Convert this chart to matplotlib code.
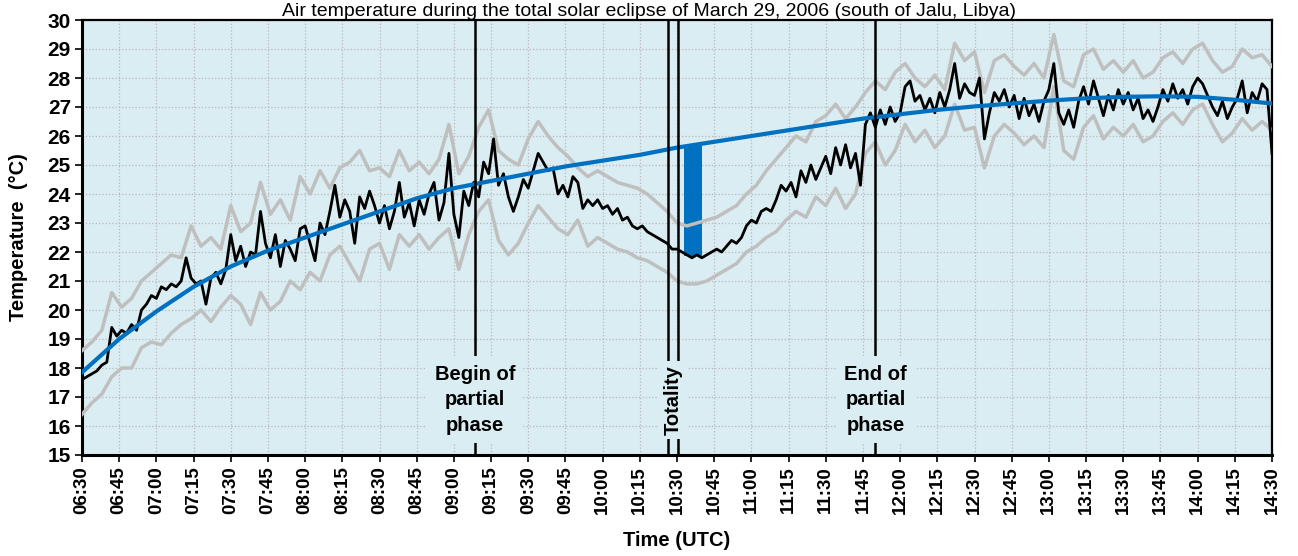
import matplotlib
matplotlib.use("Agg")
import matplotlib.pyplot as plt
import numpy as np

# minutes after 06:30 UTC
t_black = np.arange(0, 481, 2)
black = [
    17.6, 17.7, 17.8, 17.9, 18.1, 18.2, 19.4, 19.1, 19.3, 19.2, 19.5, 19.3, 20.0, 20.2, 20.5,
    20.4, 20.8, 20.7, 20.9, 20.8, 21.0, 21.8, 21.1, 20.9, 21.0, 20.2, 21.1, 21.3, 20.9, 21.4,
    22.6, 21.7, 22.2, 21.5, 22.0, 21.9, 23.4, 22.3, 21.8, 22.6, 21.5, 22.4, 22.1, 21.7, 22.8,
    22.9, 22.3, 21.7, 23.0, 22.6, 23.4, 24.3, 23.2, 23.8, 23.4, 22.3, 23.9, 23.5, 24.1, 23.6,
    23.0, 23.6, 22.8, 23.4, 24.4, 23.2, 23.7, 22.9, 23.8, 23.3, 24.0, 24.4, 23.1, 23.7, 25.4,
    23.3, 22.5, 24.1, 23.6, 24.4, 23.9, 25.1, 24.7, 25.9, 24.3, 24.7, 23.9, 23.4, 23.9, 24.5,
    24.2, 24.8, 25.4, 25.1, 24.8, 24.9, 24.0, 24.3, 23.9, 24.6, 24.4, 23.5, 23.8, 23.6, 23.8,
    23.5, 23.6, 23.3, 23.5, 23.1, 23.2, 22.9, 22.8, 22.9, 22.7, 22.6, 22.5, 22.4, 22.3, 22.1,
    22.1, 22.0, 21.9, 21.8, 21.9, 21.8, 21.9, 22.0, 22.1, 22.0, 22.2, 22.4, 22.3, 22.5, 22.9,
    23.1, 23.0, 23.4, 23.5, 23.4, 23.8, 24.3, 24.1, 24.4, 23.9, 24.8, 24.4, 25.0, 24.5, 24.9,
    25.3, 24.7, 25.6, 25.0, 25.7, 24.9, 25.4, 24.3, 26.4, 26.8, 26.3, 26.9, 26.4, 27.0, 26.5,
    26.8, 27.7, 27.9, 27.2, 27.4, 26.9, 27.3, 26.8, 27.5, 27.0, 27.6, 28.5, 27.3, 27.8, 27.5,
    27.4, 28.0, 25.9, 26.8, 27.5, 27.2, 27.6, 27.0, 27.4, 26.6, 27.3, 26.7, 27.1, 26.5, 27.2,
    27.6, 28.5, 26.8, 26.4, 26.9, 26.3, 27.2, 27.7, 27.1, 27.9, 27.3, 26.7, 27.4, 26.9, 27.6,
    27.1, 27.5, 26.9, 27.3, 26.6, 26.9, 26.5, 27.0, 27.6, 27.2, 27.8, 27.3, 27.6, 27.1, 27.7,
    28.0, 27.8, 27.4, 27.0, 26.7, 27.2, 26.6, 27.0, 27.3, 27.9, 26.8, 27.5, 27.2, 27.8, 27.6, 25.4,
]

t_gray = np.arange(0, 481, 4)
upper = [
    18.6, 18.9, 19.3, 20.6, 20.1, 20.4, 21.0, 21.3, 21.6, 21.9, 21.8, 22.9, 22.2, 22.5, 22.1,
    23.6, 22.7, 23.0, 24.4, 23.3, 23.8, 23.1, 24.6, 24.0, 24.8, 24.2, 24.9, 25.1, 25.5, 24.8,
    24.9, 24.6, 25.5, 24.8, 25.1, 24.7, 25.2, 26.4, 24.7, 25.3, 26.3, 26.9, 25.5, 25.2, 25.0,
    25.9, 26.5, 26.0, 25.6, 25.3, 24.9, 24.6, 24.8, 24.6, 24.4, 24.3, 24.2, 24.0, 23.7, 23.4,
    23.0, 22.9, 23.0, 23.1, 23.2, 23.4, 23.6, 24.0, 24.3, 24.8, 25.2, 25.6, 26.0, 25.8, 26.5,
    26.7, 27.1, 26.6, 27.0, 27.5, 27.9, 27.6, 28.2, 28.5, 28.0, 27.7, 28.1, 27.6, 29.2, 28.6,
    28.9, 27.5, 28.6, 28.8, 28.4, 28.1, 28.5, 28.0, 29.5, 27.9, 27.7, 28.8, 29.0, 28.3, 28.6,
    28.2, 28.6, 28.0, 28.2, 28.7, 28.9, 28.5, 29.0, 29.2, 28.6, 28.2, 28.4, 29.0, 28.7, 28.8,
    28.4,
]
lower = [
    16.4, 16.8, 17.1, 17.7, 18.0, 18.0, 18.7, 18.9, 18.8, 19.2, 19.5, 19.7, 20.0, 19.6, 20.1,
    20.5, 20.2, 19.5, 20.6, 20.0, 20.3, 21.0, 20.7, 21.3, 21.0, 21.9, 22.2, 21.6, 21.0, 22.1,
    22.3, 21.4, 22.6, 22.2, 22.6, 22.1, 22.5, 22.8, 21.4, 22.6, 23.4, 23.8, 22.4, 21.9, 22.3,
    23.0, 23.6, 23.2, 22.8, 22.6, 23.1, 22.2, 22.5, 22.3, 22.1, 22.0, 21.8, 21.7, 21.5, 21.3,
    21.0, 20.9, 20.9, 21.0, 21.2, 21.4, 21.6, 22.0, 22.2, 22.5, 22.7, 23.1, 23.4, 23.2, 23.9,
    23.6, 24.2, 23.5, 24.0, 25.4, 25.8, 25.0, 25.5, 26.4, 25.8, 26.2, 25.6, 26.0, 27.1, 26.2,
    26.3, 24.9, 26.0, 26.4, 26.1, 25.7, 26.0, 25.6, 27.7, 25.5, 25.2, 26.3, 26.7, 25.9, 26.3,
    26.0, 26.4, 25.8, 26.0, 26.5, 26.8, 26.4, 26.9, 27.1, 26.4, 25.8, 26.1, 26.6, 26.2, 26.5,
    26.2,
]

t_trend = np.arange(0, 481, 15)
trend = [17.85, 19.0, 19.95, 20.8, 21.5, 22.05, 22.5, 22.95, 23.4, 23.85, 24.2, 24.45,
         24.7, 24.95, 25.15, 25.35, 25.6, 25.8, 26.0, 26.2, 26.4, 26.6, 26.75, 26.9,
         27.02, 27.12, 27.22, 27.3, 27.35, 27.37, 27.35, 27.25, 27.12]

tick_labels = ["06:30", "06:45", "07:00", "07:15", "07:30", "07:45", "08:00", "08:15",
               "08:30", "08:45", "09:00", "09:15", "09:30", "09:45", "10:00", "10:15",
               "10:30", "10:45", "11:00", "11:15", "11:30", "11:45", "12:00", "12:15",
               "12:30", "12:45", "13:00", "13:15", "13:30", "13:45", "14:00", "14:15", "14:30"]

# event times (minutes after 06:30)
begin_partial = 158.5
totality = [236.4, 240.4]
end_partial = 320.0
# eclipse drop bar: time range and temperatures
drop_t = [243.0, 250.0]
drop_top = 25.68
drop_bottom = 21.85

bg = "#DAEDF3"
font = ["Liberation Sans", "DejaVu Sans"]

fig = plt.figure(figsize=(12.98, 5.56), dpi=100)
ax = fig.add_axes([82 / 1298, 1 - 455 / 556, 1190 / 1298, 435 / 556])
ax.set_facecolor(bg)

ax.bar((drop_t[0] + drop_t[1]) / 2, drop_top - drop_bottom, width=drop_t[1] - drop_t[0],
       bottom=drop_bottom, color="#0070C0", zorder=2)
ax.plot(t_gray, upper, color="#BFBFBF", lw=2.5, zorder=3)
ax.plot(t_gray, lower, color="#BFBFBF", lw=2.5, zorder=3)
ax.plot(t_black, black, color="black", lw=2, zorder=4)
ax.plot(t_trend, trend, color="#0070C0", lw=3, zorder=5)

for x in [begin_partial] + totality + [end_partial]:
    ax.axvline(x, color="black", lw=1.8, zorder=6)

ax.set_xlim(0, 480)
ax.set_ylim(15, 30)
ax.set_xticks(t_trend)
ax.set_xticklabels(tick_labels, rotation=90, family=font, fontweight="bold", fontsize=13.5)
ax.set_yticks(range(15, 31))
ax.set_yticklabels([str(v) for v in range(15, 31)], family=font, fontweight="bold", fontsize=15)
ax.tick_params(direction="out", length=5, width=1.2, pad=3)
ax.grid(True, linestyle=":", color="#B8B8B8", lw=0.9, zorder=1)
ax.set_axisbelow(True)
for side in ["left", "bottom"]:
    ax.spines[side].set_linewidth(2.2)
for side in ["top", "right"]:
    ax.spines[side].set_linewidth(1.6)

box = dict(facecolor=bg, edgecolor="none", pad=6)
ax.text(begin_partial, 16.9, "Begin of\npartial\nphase", ha="center", va="center",
        family=font, fontweight="bold", fontsize=14.5, linespacing=1.45, bbox=box, zorder=7)
ax.text(end_partial, 16.9, "End of\npartial\nphase", ha="center", va="center",
        family=font, fontweight="bold", fontsize=14.5, linespacing=1.45, bbox=box, zorder=7)
ax.text(sum(totality) / 2, 16.9, "Totality", ha="center", va="center", rotation=90,
        family=font, fontweight="bold", fontsize=14.5,
        bbox=dict(facecolor=bg, edgecolor="none", pad=3), zorder=7)

ax.set_xlabel("Time (UTC)", family=font, fontweight="bold", fontsize=14.5, labelpad=12)
ax.set_ylabel("Temperature  (°C)", family=font, fontweight="bold", fontsize=14.5, labelpad=14)
fig.text(0.5, 1 - 15.5 / 556, "Air temperature during the total solar eclipse of March 29, 2006 (south of Jalu, Libya)",
         ha="center", va="baseline", family=font, fontsize=14)

fig.savefig("out.png", dpi=100)
